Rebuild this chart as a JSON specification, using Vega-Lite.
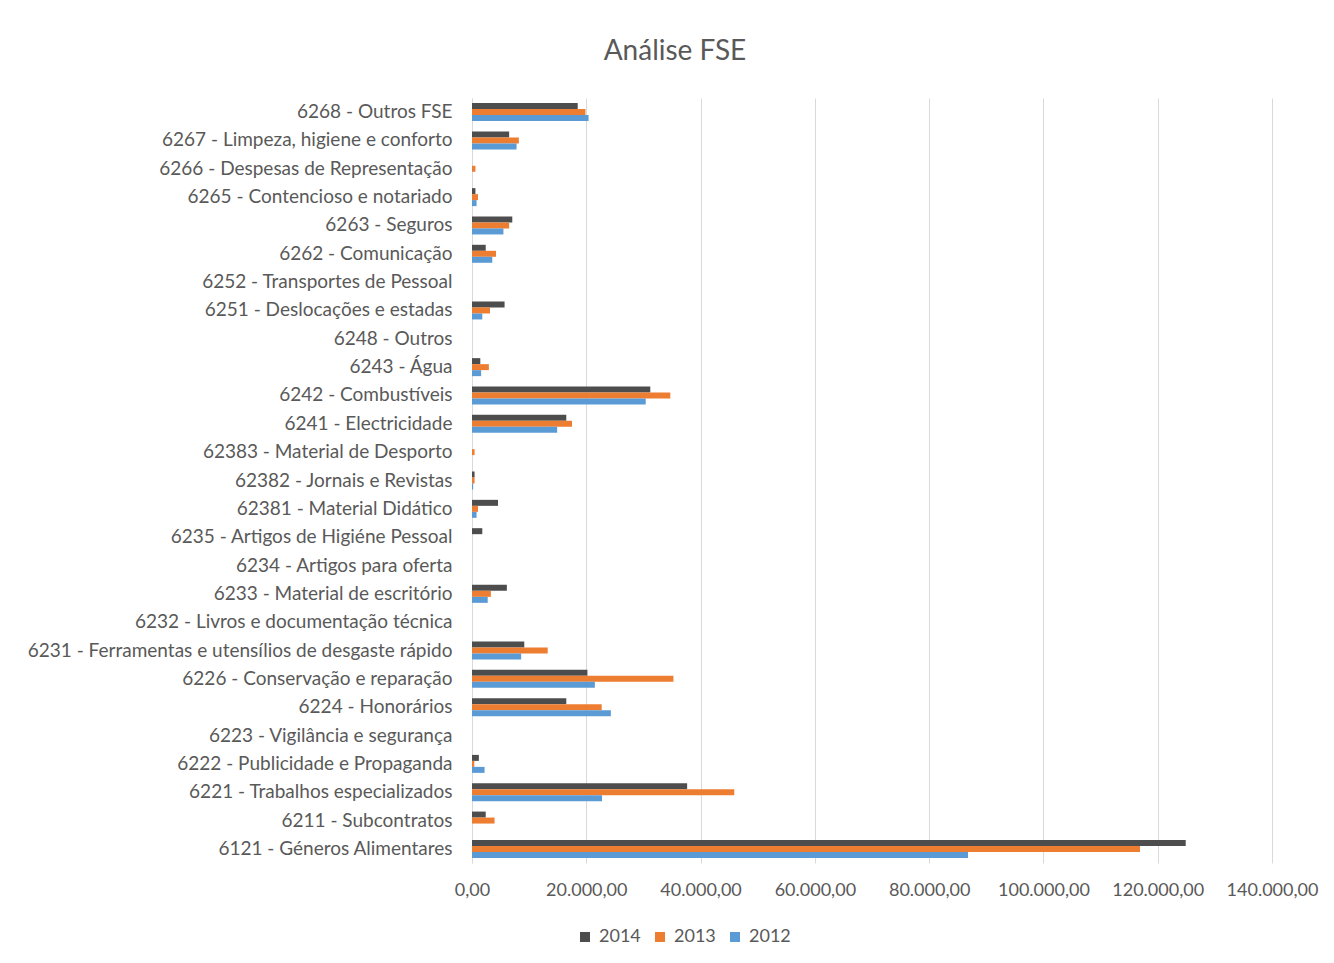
{
  "$schema": "https://vega.github.io/schema/vega-lite/v6.json",
  "width": 800,
  "height": 765,
  "autosize": "none",
  "padding": {"left": 472, "top": 98, "right": 62, "bottom": 100},
  "background": "white",
  "config": {
    "locale": {"number": {"decimal": ",", "thousands": ".", "grouping": [3], "currency": ["€", ""]}},
    "font": "Lato",
    "view": {"stroke": null}
  },
  "title": {"text": "Análise FSE", "fontSize": 28, "fontWeight": "normal", "color": "#595959", "anchor": "middle", "dx": -197, "offset": 32, "font": "Lato"},
  "data": {"values": [
    {"c": "6268 - Outros FSE", "y": "2014", "v": 18500}, {"c": "6268 - Outros FSE", "y": "2013", "v": 19850}, {"c": "6268 - Outros FSE", "y": "2012", "v": 20400},
    {"c": "6267 - Limpeza, higiene e conforto", "y": "2014", "v": 6500}, {"c": "6267 - Limpeza, higiene e conforto", "y": "2013", "v": 8200}, {"c": "6267 - Limpeza, higiene e conforto", "y": "2012", "v": 7800},
    {"c": "6266 - Despesas de Representação", "y": "2013", "v": 600},
    {"c": "6265 - Contencioso e notariado", "y": "2014", "v": 600}, {"c": "6265 - Contencioso e notariado", "y": "2013", "v": 1050}, {"c": "6265 - Contencioso e notariado", "y": "2012", "v": 800},
    {"c": "6263 - Seguros", "y": "2014", "v": 7050}, {"c": "6263 - Seguros", "y": "2013", "v": 6500}, {"c": "6263 - Seguros", "y": "2012", "v": 5500},
    {"c": "6262 - Comunicação", "y": "2014", "v": 2400}, {"c": "6262 - Comunicação", "y": "2013", "v": 4200}, {"c": "6262 - Comunicação", "y": "2012", "v": 3550},
    {"c": "6251 - Deslocações e estadas", "y": "2014", "v": 5700}, {"c": "6251 - Deslocações e estadas", "y": "2013", "v": 3150}, {"c": "6251 - Deslocações e estadas", "y": "2012", "v": 1800},
    {"c": "6243 - Água", "y": "2014", "v": 1450}, {"c": "6243 - Água", "y": "2013", "v": 2950}, {"c": "6243 - Água", "y": "2012", "v": 1600},
    {"c": "6242 - Combustíveis", "y": "2014", "v": 31200}, {"c": "6242 - Combustíveis", "y": "2013", "v": 34700}, {"c": "6242 - Combustíveis", "y": "2012", "v": 30400},
    {"c": "6241 - Electricidade", "y": "2014", "v": 16500}, {"c": "6241 - Electricidade", "y": "2013", "v": 17500}, {"c": "6241 - Electricidade", "y": "2012", "v": 14900},
    {"c": "62383 - Material de Desporto", "y": "2013", "v": 450},
    {"c": "62382 - Jornais e Revistas", "y": "2014", "v": 450}, {"c": "62382 - Jornais e Revistas", "y": "2013", "v": 450}, {"c": "62382 - Jornais e Revistas", "y": "2012", "v": 200},
    {"c": "62381 - Material Didático", "y": "2014", "v": 4550}, {"c": "62381 - Material Didático", "y": "2013", "v": 1050}, {"c": "62381 - Material Didático", "y": "2012", "v": 800},
    {"c": "6235 - Artigos de Higiéne Pessoal", "y": "2014", "v": 1800},
    {"c": "6233 - Material de escritório", "y": "2014", "v": 6100}, {"c": "6233 - Material de escritório", "y": "2013", "v": 3300}, {"c": "6233 - Material de escritório", "y": "2012", "v": 2750},
    {"c": "6231 - Ferramentas e utensílios de desgaste rápido", "y": "2014", "v": 9150}, {"c": "6231 - Ferramentas e utensílios de desgaste rápido", "y": "2013", "v": 13250}, {"c": "6231 - Ferramentas e utensílios de desgaste rápido", "y": "2012", "v": 8600},
    {"c": "6226 - Conservação e reparação", "y": "2014", "v": 20200}, {"c": "6226 - Conservação e reparação", "y": "2013", "v": 35250}, {"c": "6226 - Conservação e reparação", "y": "2012", "v": 21500},
    {"c": "6224 - Honorários", "y": "2014", "v": 16500}, {"c": "6224 - Honorários", "y": "2013", "v": 22700}, {"c": "6224 - Honorários", "y": "2012", "v": 24300},
    {"c": "6222 - Publicidade e Propaganda", "y": "2014", "v": 1200}, {"c": "6222 - Publicidade e Propaganda", "y": "2013", "v": 400}, {"c": "6222 - Publicidade e Propaganda", "y": "2012", "v": 2200},
    {"c": "6221 - Trabalhos especializados", "y": "2014", "v": 37650}, {"c": "6221 - Trabalhos especializados", "y": "2013", "v": 45900}, {"c": "6221 - Trabalhos especializados", "y": "2012", "v": 22750},
    {"c": "6211 - Subcontratos", "y": "2014", "v": 2400}, {"c": "6211 - Subcontratos", "y": "2013", "v": 3950},
    {"c": "6121 - Géneros Alimentares", "y": "2014", "v": 124900}, {"c": "6121 - Géneros Alimentares", "y": "2013", "v": 116900}, {"c": "6121 - Géneros Alimentares", "y": "2012", "v": 86800}
  ]},
  "mark": {"type": "bar"},
  "encoding": {
    "y": {
      "field": "c", "type": "nominal", "title": null,
      "scale": {
        "domain": ["6268 - Outros FSE", "6267 - Limpeza, higiene e conforto", "6266 - Despesas de Representação", "6265 - Contencioso e notariado", "6263 - Seguros", "6262 - Comunicação", "6252 - Transportes de Pessoal", "6251 - Deslocações e estadas", "6248 - Outros", "6243 - Água", "6242 - Combustíveis", "6241 - Electricidade", "62383 - Material de Desporto", "62382 - Jornais e Revistas", "62381 - Material Didático", "6235 - Artigos de Higiéne Pessoal", "6234 - Artigos para oferta", "6233 - Material de escritório", "6232 - Livros e documentação técnica", "6231 - Ferramentas e utensílios de desgaste rápido", "6226 - Conservação e reparação", "6224 - Honorários", "6223 - Vigilância e segurança", "6222 - Publicidade e Propaganda", "6221 - Trabalhos especializados", "6211 - Subcontratos", "6121 - Géneros Alimentares"],
        "paddingInner": 0.365, "paddingOuter": 0.18
      },
      "axis": {"ticks": false, "domainColor": "#D9D9D9", "labelFontSize": 19, "labelColor": "#595959", "labelPadding": 20, "labelLimit": 600, "labelFont": "Lato"}
    },
    "yOffset": {"field": "y", "type": "nominal", "scale": {"domain": ["2014", "2013", "2012"], "paddingInner": 0, "paddingOuter": 0}},
    "x": {
      "field": "v", "type": "quantitative", "title": null,
      "scale": {"domain": [0, 140000], "nice": false},
      "axis": {"values": [0, 20000, 40000, 60000, 80000, 100000, 120000, 140000], "format": ",.2f", "domain": false, "ticks": false, "gridColor": "#D9D9D9", "labelFontSize": 18, "labelColor": "#595959", "labelPadding": 18, "labelFont": "Lato", "labelOverlap": false, "labelFlush": false}
    },
    "color": {
      "field": "y", "type": "nominal", "title": null,
      "scale": {"domain": ["2014", "2013", "2012"], "range": ["#4D4D4D", "#ED7D31", "#5B9BD5"]},
      "legend": {"orient": "none", "legendX": 104, "legendY": 830, "direction": "horizontal", "symbolType": "square", "symbolSize": 100, "symbolStrokeWidth": 0, "labelFontSize": 18, "labelColor": "#595959", "labelFont": "Lato", "columnPadding": 10, "labelOffset": 5, "symbolOffset": 0}
    }
  }
}
